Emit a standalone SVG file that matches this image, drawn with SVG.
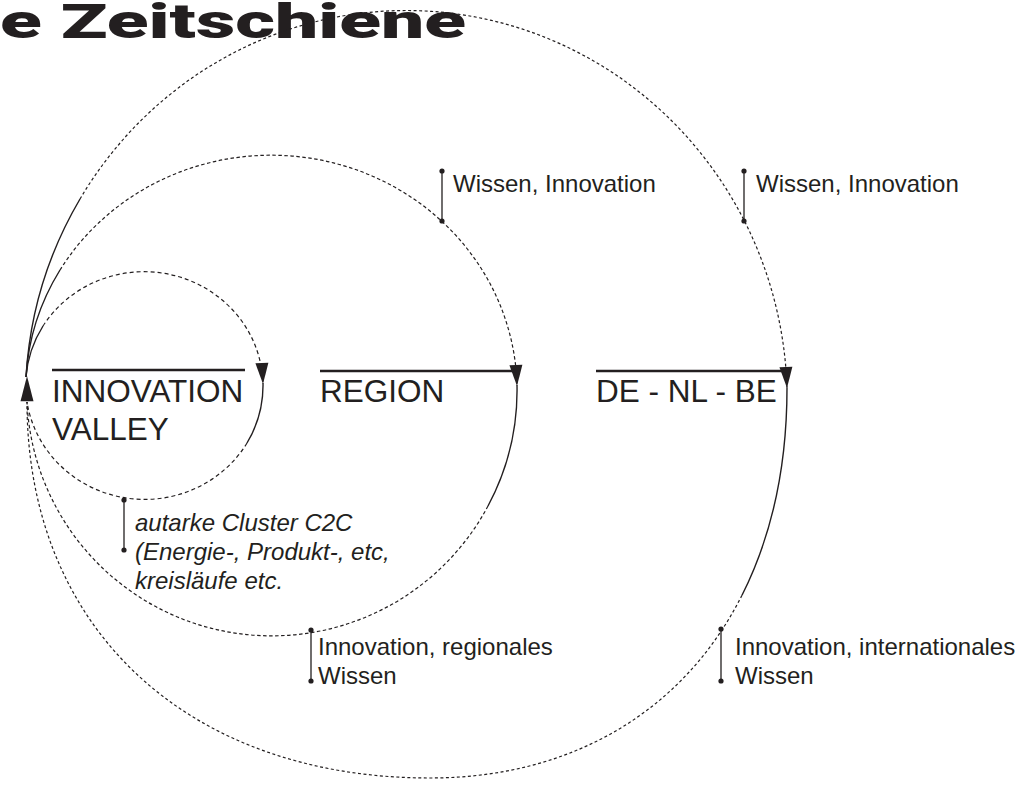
<svg xmlns="http://www.w3.org/2000/svg" xmlns:xlink="http://www.w3.org/1999/xlink" width="1034" height="790" viewBox="0 0 1034 790">
<style>
  .t { font-family: "Liberation Sans", Arial, sans-serif; fill: #231f20; }
  .big { font-size: 31.5px; }
  .lbl { font-size: 24px; }
  .it { font-style: italic; }
  .title { font-family: Roboto, "Liberation Sans", sans-serif; font-weight: 900; font-size: 49px; fill: #231f20; }
  .solid { fill: none; stroke: #231f20; stroke-width: 1.4; }
  .dash { fill: none; stroke: #231f20; stroke-width: 1.2; }
  .d1 { stroke-dasharray: 4 3; }
  .d2 { stroke-dasharray: 3.5 2.5; }
  .d3 { stroke-dasharray: 3 2.5; }
  .over { stroke: #231f20; stroke-width: 2.4; }
  .tick { stroke: #231f20; stroke-width: 1.3; }
  .dot { fill: #231f20; }
  .ah { fill: #231f20; }
</style>
<defs>
  <path id="ahead" d="M-6.5,-21 L6.5,-21 L0,0 Z"/>
</defs>
<rect width="1034" height="790" fill="#ffffff"/>

<g id="title">
  <text class="title" x="0" y="38" textLength="466" lengthAdjust="spacingAndGlyphs">e Zeitschiene</text>
</g>

<g id="connectors">
  <!-- inner loop -->
  <path class="solid" d="M26,377 A119,115 0 0 1 43,326"/>
  <path class="dash d1" d="M43,326 A119,115 0 0 1 263,383"/>
  <path class="solid" d="M263,383 A119,115 0 0 1 247,443"/>
  <path class="dash d1" d="M247,443 A119,115 0 0 1 27,402"/>
  <!-- middle loop -->
  <path class="solid" d="M26,377 A246,236 0 0 1 60,270"/>
  <path class="dash d2" d="M60,270 A246,236 0 0 1 517,385"/>
  <path class="solid" d="M517,385 A245,245 0 0 1 488,506"/>
  <path class="dash d2" d="M488,506 A245,245 0 0 1 27,402"/>
  <!-- outer loop -->
  <path class="solid" d="M26,377 A381,390 0 0 1 80,199"/>
  <path class="dash d3" d="M80,199 A381,390 0 0 1 787,388"/>
  <path class="solid" d="M787,388 C787,467.9 771,537.6 742,595.2"/>
  <path class="dash d3" d="M742,595.2 C683.1,712.1 570.7,778 430,778 C187,778 27,628 27,402"/>
  <!-- arrowheads -->
  <use xlink:href="#ahead" class="ah" transform="translate(263,384) rotate(-3)"/>
  <use xlink:href="#ahead" class="ah" transform="translate(517,386) rotate(-3)"/>
  <use xlink:href="#ahead" class="ah" transform="translate(787,388) rotate(-3)"/>
  <use xlink:href="#ahead" class="ah" transform="translate(27,376) rotate(180) scale(1,1.2)"/>
</g>

<g id="node-innovation-valley">
  <line class="over" x1="52" y1="370" x2="245" y2="370"/>
  <text class="t big" x="52" y="402">INNOVATION</text>
  <text class="t big" x="52" y="440">VALLEY</text>
</g>

<g id="node-region">
  <line class="over" x1="320" y1="371" x2="517" y2="371"/>
  <text class="t big" x="320" y="402">REGION</text>
</g>

<g id="node-de-nl-be">
  <line class="over" x1="596" y1="371" x2="786" y2="371"/>
  <text class="t big" x="596" y="402">DE - NL - BE</text>
</g>

<g id="label-inner">
  <line class="tick" x1="124" y1="500" x2="124" y2="550"/>
  <circle class="dot" cx="124" cy="500" r="2.6"/>
  <circle class="dot" cx="124" cy="550" r="2.6"/>
  <text class="t lbl it" x="135" y="531">autarke Cluster C2C</text>
  <text class="t lbl it" x="135" y="560">(Energie-, Produkt-, etc,</text>
  <text class="t lbl it" x="135" y="589">kreisläufe etc.</text>
</g>

<g id="label-region-top">
  <line class="tick" x1="442" y1="171" x2="442" y2="221"/>
  <circle class="dot" cx="442" cy="171" r="2.6"/>
  <circle class="dot" cx="442" cy="221" r="2.6"/>
  <text class="t lbl" x="453" y="192">Wissen, Innovation</text>
</g>

<g id="label-outer-top">
  <line class="tick" x1="744" y1="171" x2="744" y2="221"/>
  <circle class="dot" cx="744" cy="171" r="2.6"/>
  <circle class="dot" cx="744" cy="221" r="2.6"/>
  <text class="t lbl" x="756" y="192">Wissen, Innovation</text>
</g>

<g id="label-region-bottom">
  <line class="tick" x1="311" y1="630" x2="311" y2="681"/>
  <circle class="dot" cx="311" cy="630" r="2.6"/>
  <circle class="dot" cx="311" cy="681" r="2.6"/>
  <text class="t lbl" x="318" y="655">Innovation, regionales</text>
  <text class="t lbl" x="318" y="684">Wissen</text>
</g>

<g id="label-outer-bottom">
  <line class="tick" x1="721" y1="629" x2="721" y2="681"/>
  <circle class="dot" cx="721" cy="629" r="2.6"/>
  <circle class="dot" cx="721" cy="681" r="2.6"/>
  <text class="t lbl" x="735" y="655">Innovation, internationales</text>
  <text class="t lbl" x="735" y="684">Wissen</text>
</g>
</svg>
